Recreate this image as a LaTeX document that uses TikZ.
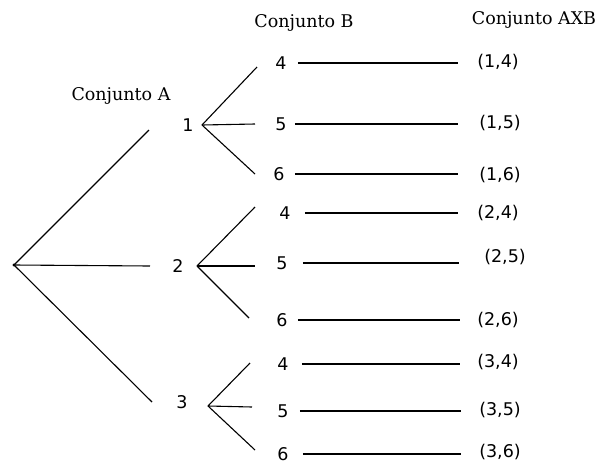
\documentclass[tikz,border=0pt]{standalone}
\usepackage{fontspec}
\newfontfamily\headfont{DejaVu Serif}
\newfontfamily\numfont{DejaVu Sans}
\begin{document}
\begin{tikzpicture}[x=1pt,y=-1pt,
  header/.style={font=\headfont\fontsize{17.5}{20}\selectfont, inner sep=0pt},
  elem/.style={font=\numfont\fontsize{17.5}{20}\selectfont, inner sep=0pt},
  pair/.style={font=\numfont\fontsize{17.5}{20}\selectfont, inner sep=0pt},
  edge/.style={line width=1.1pt, black},
  row/.style={line width=1.2pt, black}]
\useasboundingbox[fill=white] (0,0) rectangle (598,464);

% headers
\node[header] (hA)  at (121,96) {Conjunto A};
\node[header] (hB)  at (304,23) {Conjunto B};
\node[header] (hAB) at (534,20) {Conjunto AXB};

% root of the tree
\coordinate (root) at (14,265);
\fill (root) circle (1.6);

% elements of A
\node[elem] (a1) at (188,125) {1};
\node[elem] (a2) at (178,266) {2};
\node[elem] (a3) at (182,402) {3};

% ends of the first-level branches
\coordinate (e1) at (149,130);
\coordinate (e2) at (150,266);
\coordinate (e3) at (152,402);
\draw[edge] (root) -- (e1);
\draw[edge] (root) -- (e2);
\draw[edge] (root) -- (e3);

% forks next to each element of A
\coordinate (v1) at (202,125);
\coordinate (v2) at (197,266);
\coordinate (v3) at (208,406);

\coordinate (t11) at (257,67);
\coordinate (t12) at (255,124);
\coordinate (t13) at (255,174);
\coordinate (t21) at (255,207);
\coordinate (t22) at (255,266);
\coordinate (t23) at (249,318);
\coordinate (t31) at (250,363);
\coordinate (t32) at (252,407);
\coordinate (t33) at (255,450);

\foreach \i in {1,2,3}{
  \foreach \j in {1,2,3}{
    \draw[edge] (v\i) -- (t\i\j);
  }
}

% elements of B
\node[elem] (b11) at (281,63)  {4};
\node[elem] (b12) at (281,124) {5};
\node[elem] (b13) at (279,174) {6};
\node[elem] (b21) at (285,213) {4};
\node[elem] (b22) at (282,263) {5};
\node[elem] (b23) at (282,320) {6};
\node[elem] (b31) at (283,364) {4};
\node[elem] (b32) at (283,411) {5};
\node[elem] (b33) at (283,454) {6};

% ordered pairs of A x B
\node[pair] (p11) at (498,62)  {(1,4)};
\node[pair] (p12) at (500,123) {(1,5)};
\node[pair] (p13) at (500,175) {(1,6)};
\node[pair] (p21) at (498,213) {(2,4)};
\node[pair] (p22) at (505,257) {(2,5)};
\node[pair] (p23) at (498,320) {(2,6)};
\node[pair] (p31) at (498,362) {(3,4)};
\node[pair] (p32) at (500,410) {(3,5)};
\node[pair] (p33) at (500,452) {(3,6)};

% connectors from each element of B to its pair (gap at start / gap at end)
\foreach \i/\j/\s/\e in {1/1/11/19, 1/2/8/21, 1/3/10/21,
                         2/1/14/19, 2/2/15/25, 2/3/10/17,
                         3/1/13/17, 3/2/11/18, 3/3/14/18}{
  \draw[row, shorten <=\s pt, shorten >=\e pt]
    (b\i\j.east) -- (b\i\j.east -| p\i\j.west);
}
\end{tikzpicture}
\end{document}
